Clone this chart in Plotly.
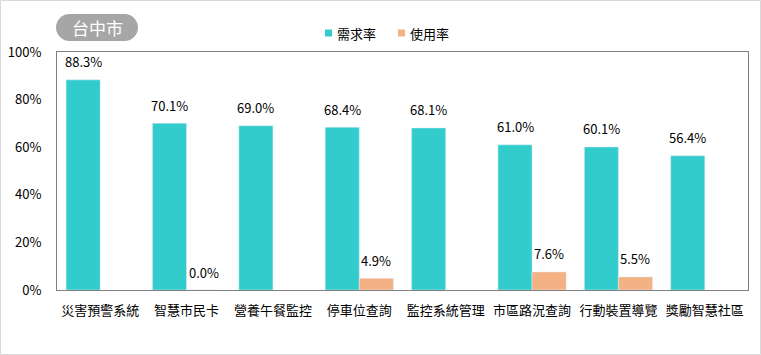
import plotly.graph_objects as go

categories = ["災害預警系統", "智慧市民卡", "營養午餐監控", "停車位查詢", "監控系統管理", "市區路況查詢", "行動裝置導覽", "獎勵智慧社區"]
need_rate = [88.3, 70.1, 69.0, 68.4, 68.1, 61.0, 60.1, 56.4]
use_rate = [None, 0.0, None, 4.9, None, 7.6, 5.5, None]
y_ticks = [0, 20, 40, 60, 80, 100]
y_tick_labels = ["0%", "20%", "40%", "60%", "80%", "100%"]
title_text = "台中市"
series_names = ["需求率", "使用率"]
series_colors = ["#33CCCC", "#F4B183"]

W, H = 761, 355
L, R, T, B = 57, 13, 52, 65
pw, ph = W - L - R, H - T - B
BARGAP = 0.21

def px(x):
    return (x - L) / pw

def py(y):
    return (H - B - y) / ph

FONT = "Noto Sans CJK TC, Microsoft JhengHei, sans-serif"

fig = go.Figure()
for name, vals, col in zip(series_names, [need_rate, use_rate], series_colors):
    fig.add_trace(go.Bar(x=categories, y=vals, name=name, marker_color=col,
                         showlegend=False))

# value labels, derived from data, offset to the grouped bar centres
cat_w = pw / len(categories)
bar_w = cat_w * (1 - BARGAP) / 2
annotations = []
for i, vals in enumerate([need_rate, use_rate]):
    xs = (i - 0.5) * bar_w
    for c, v in zip(categories, vals):
        if v is None:
            continue
        annotations.append(dict(
            x=c, y=v, xref="x", yref="y", text=f"{v:.1f}%", showarrow=False,
            xanchor="center", yanchor="middle", xshift=xs, yshift=18,
            font=dict(family=FONT, size=13, color="#000000"),
        ))

# rounded pill for the title
x0, x1, y0, y1 = 56, 138, 14, 41
r = 13.5
k = 0.5523 * r
def pt(x, y):
    return f"{px(x):.5f},{py(y):.5f}"
path = (
    f"M {pt(x0 + r, y0)} L {pt(x1 - r, y0)} "
    f"C {pt(x1 - r + k, y0)} {pt(x1, y0 + r - k)} {pt(x1, y0 + r)} "
    f"C {pt(x1, y0 + r + k)} {pt(x1 - r + k, y1)} {pt(x1 - r, y1)} "
    f"L {pt(x0 + r, y1)} "
    f"C {pt(x0 + r - k, y1)} {pt(x0, y0 + r + k)} {pt(x0, y0 + r)} "
    f"C {pt(x0, y0 + r - k)} {pt(x0 + r - k, y0)} {pt(x0 + r, y0)} Z"
)

shapes = [
    dict(type="path", xref="paper", yref="paper", path=path,
         fillcolor="#A6A6A6", line=dict(width=0), layer="above"),
    dict(type="rect", xref="paper", yref="paper",
         x0=px(0.5), x1=px(W - 0.5), y0=py(H - 0.5), y1=py(0.5),
         line=dict(color="#D9D9D9", width=1), fillcolor="rgba(0,0,0,0)", layer="below"),
]
annotations.append(dict(
    text=title_text, xref="paper", yref="paper",
    x=px((x0 + x1) / 2), y=py((y0 + y1) / 2),
    xanchor="center", yanchor="middle", showarrow=False,
    font=dict(family=FONT, size=17, color="white"),
))

# manual legend
leg_x = [325, 398]
leg_y = 33
for lx, name, col in zip(leg_x, series_names, series_colors):
    shapes.append(dict(type="rect", xref="paper", yref="paper",
                       x0=px(lx), x1=px(lx + 7), y0=py(leg_y + 3.5), y1=py(leg_y - 3.5),
                       fillcolor=col, line=dict(width=0)))
    annotations.append(dict(text=name, xref="paper", yref="paper",
                            x=px(lx + 10), y=py(leg_y), xanchor="left", yanchor="middle",
                            showarrow=False, font=dict(family=FONT, size=13, color="#000000")))

fig.update_layout(
    width=W, height=H,
    margin=dict(l=L, r=R, t=T, b=B, autoexpand=False),
    paper_bgcolor="white", plot_bgcolor="white",
    font=dict(family=FONT, size=13, color="#000000"),
    barmode="group", bargap=BARGAP, bargroupgap=0,
    shapes=shapes, annotations=annotations,
    showlegend=False,
    xaxis=dict(
        showline=True, mirror=True, linecolor="#808080", linewidth=1,
        ticks="", tickfont=dict(size=13, family=FONT), ticklabelstandoff=8,
        automargin=False,
    ),
    yaxis=dict(
        range=[0, 100], tickvals=y_ticks, ticktext=y_tick_labels,
        showline=True, mirror=True, linecolor="#808080", linewidth=1,
        showgrid=False, zeroline=False, ticks="",
        tickfont=dict(size=13, family=FONT), ticklabelstandoff=12,
        automargin=False,
    ),
)

fig.write_html("out.html", config={"displayModeBar": False},
               post_script="document.body.style.margin='0';")
